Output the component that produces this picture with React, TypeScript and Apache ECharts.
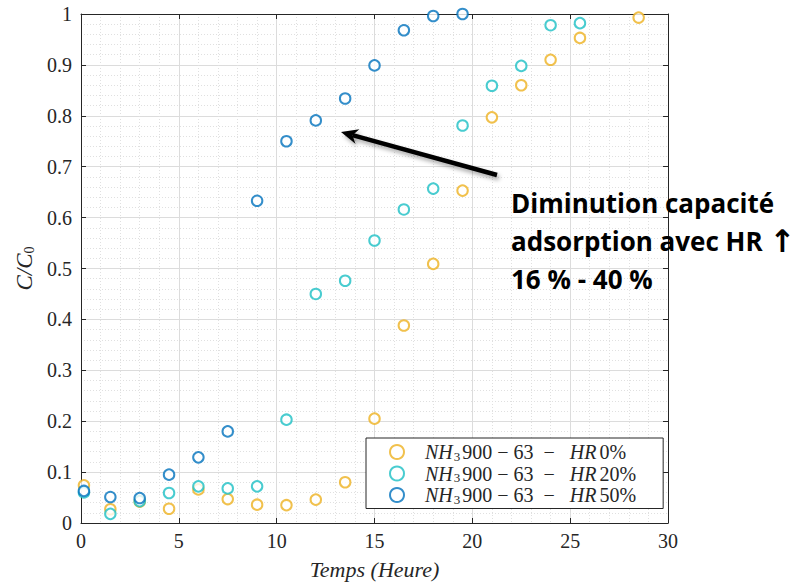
import React, { useEffect, useRef } from "react";
import * as echarts from "echarts";

const timeHours = [0.15, 1.5, 3, 4.5, 6, 7.5, 9, 10.5, 12, 13.5, 15, 16.5, 18, 19.5, 21, 22.5, 24, 25.5, 28.5];
const hr0 = [0.074, 0.027, 0.042, 0.028, 0.066, 0.047, 0.036, 0.035, 0.046, 0.08, 0.205, 0.388, 0.509, 0.653, 0.797, 0.86, 0.91, 0.953, 0.993];
const hr20Times = [0.15, 1.5, 3, 4.5, 6, 7.5, 9, 10.5, 12, 13.5, 15, 16.5, 18, 19.5, 21, 22.5, 24, 25.5];
const hr20 = [0.06, 0.018, 0.043, 0.059, 0.072, 0.068, 0.072, 0.203, 0.45, 0.476, 0.555, 0.616, 0.657, 0.781, 0.859, 0.898, 0.978, 0.982];
const hr50Times = [0.15, 1.5, 3, 4.5, 6, 7.5, 9, 10.5, 12, 13.5, 15, 16.5, 18, 19.5];
const hr50 = [0.063, 0.051, 0.049, 0.095, 0.129, 0.18, 0.633, 0.75, 0.791, 0.834, 0.899, 0.968, 0.996, 1.0];
const seriesNames = ["NH3900-63-HR 0%", "NH3900-63-HR 20%", "NH3900-63-HR 50%"];
const legendPct = ["0%", "20%", "50%"];
const annotationLines = ["Diminution capacité", "adsorption avec HR {a|↑}", "16 % - 40 %"];

const colors = ["#EDB120", "#1CBFC4", "#0072BD"];
const serif = "'Liberation Serif', serif";
const axisColor = "#262626";

function pairs(xs: number[], ys: number[]) {
  return xs.map((x, i) => [x, ys[i]]);
}

export default function App() {
  const ref = useRef<HTMLDivElement>(null);
  useEffect(() => {
    if (!ref.current) return;
    const chart = echarts.init(ref.current, undefined, { renderer: "svg" });

    // arrow geometry (annotation, pixel space)
    const tail = [497, 175];
    const tip = [341, 132];
    const dx = tip[0] - tail[0];
    const dy = tip[1] - tail[1];
    const len = Math.sqrt(dx * dx + dy * dy);
    const ux = dx / len, uy = dy / len;
    const nx = -uy, ny = ux;
    const headLen = 17, headW = 7.5;
    const base = [tip[0] - headLen * ux, tip[1] - headLen * uy];
    const inner = [tip[0] - headLen * 0.7 * ux, tip[1] - headLen * 0.7 * uy];
    const c1 = [base[0] + headW * nx, base[1] + headW * ny];
    const c2 = [base[0] - headW * nx, base[1] - headW * ny];
    const shadow = { shadowBlur: 4, shadowColor: "rgba(0,0,0,0.35)", shadowOffsetX: 2, shadowOffsetY: 3 };

    const labelStyle = { show: true, color: axisColor, fontFamily: serif, fontSize: 20 };

    const option: any = {
      animation: false,
      backgroundColor: "#fff",
      textStyle: { fontFamily: serif, color: axisColor },
      grid: { left: 81, right: 136, top: 14, bottom: 58, containLabel: false },
      xAxis: [
        {
          type: "value",
          position: "bottom",
          min: 0,
          max: 30,
          interval: 5,
          axisLine: { show: true, onZero: false, lineStyle: { color: axisColor, width: 1 } },
          axisTick: { show: true, inside: true, length: 5, lineStyle: { color: axisColor } },
          axisLabel: { ...labelStyle, margin: 8 },
          splitLine: { show: true, lineStyle: { color: "#dcdcdc", width: 1 } },
          minorSplitLine: { show: true, lineStyle: { color: "#e0e0e0", type: [1, 2], width: 1 } },
          minorTick: { show: false, splitNumber: 5 },
          name: "Temps (Heure)",
          nameLocation: "middle",
          nameGap: 35,
          nameTextStyle: { fontFamily: serif, fontStyle: "italic", fontSize: 22, color: axisColor },
        },
        {
          type: "value",
          position: "top",
          min: 0,
          max: 30,
          interval: 5,
          axisLine: { show: true, onZero: false, lineStyle: { color: axisColor, width: 1 } },
          axisTick: { show: true, inside: true, length: 5, lineStyle: { color: axisColor } },
          axisLabel: { show: false },
          splitLine: { show: false },
        },
      ],
      yAxis: [
        {
          type: "value",
          position: "left",
          min: 0,
          max: 1,
          interval: 0.1,
          axisLine: { show: true, onZero: false, lineStyle: { color: axisColor, width: 1 } },
          axisTick: { show: true, inside: true, length: 5, lineStyle: { color: axisColor } },
          axisLabel: { ...labelStyle, margin: 9 },
          splitLine: { show: true, lineStyle: { color: "#dcdcdc", width: 1 } },
          minorSplitLine: { show: true, lineStyle: { color: "#e0e0e0", type: [1, 2], width: 1 } },
          minorTick: { show: false, splitNumber: 5 },
          name: "C/C{s|0}",
          nameLocation: "middle",
          nameGap: 45,
          nameRotate: 90,
          nameTextStyle: {
            fontFamily: serif,
            fontStyle: "italic",
            fontSize: 23,
            color: axisColor,
            rich: { s: { fontFamily: serif, fontStyle: "normal", fontSize: 14, color: axisColor, padding: [10, 0, 0, 0] } },
          },
        },
        {
          type: "value",
          position: "right",
          min: 0,
          max: 1,
          interval: 0.1,
          axisLine: { show: true, onZero: false, lineStyle: { color: axisColor, width: 1 } },
          axisTick: { show: true, inside: true, length: 5, lineStyle: { color: axisColor } },
          axisLabel: { show: false },
          splitLine: { show: false },
        },
      ],
      legend: {
        left: 366,
        top: 438,
        orient: "vertical",
        padding: [4, 27, 3, 23],
        itemGap: 1,
        itemWidth: 14,
        itemHeight: 14,
        borderColor: axisColor,
        borderWidth: 1,
        borderRadius: 0,
        backgroundColor: "#fff",
        data: seriesNames,
        formatter: (name: string) => {
          const idx = seriesNames.indexOf(name);
          return `{i|NH}{s|3}{n|900 − 63  −   }{i|HR} {n|${legendPct[idx]}}`;
        },
        textStyle: {
          color: axisColor,
          fontFamily: serif,
          padding: [0, 0, 0, 16],
          rich: {
            i: { fontFamily: serif, fontStyle: "italic", fontSize: 20, color: axisColor, height: 22 },
            n: { fontFamily: serif, fontSize: 20, color: axisColor, height: 22 },
            s: { fontFamily: serif, fontSize: 13, color: axisColor, padding: [8, 2, 0, 1], height: 22 },
          },
        },
      },
      series: [
        { name: seriesNames[0], data: pairs(timeHours, hr0), color: colors[0] },
        { name: seriesNames[1], data: pairs(hr20Times, hr20), color: colors[1] },
        { name: seriesNames[2], data: pairs(hr50Times, hr50), color: colors[2] },
      ].map((s) => ({
        ...s,
        type: "scatter",
        symbol: "emptyCircle",
        symbolSize: 10.5,
        itemStyle: { color: s.color, borderColor: s.color, borderWidth: 1.8 },
        z: 3,
      })),
      graphic: [
        {
          type: "line",
          shape: { x1: tail[0], y1: tail[1], x2: inner[0], y2: inner[1] },
          style: { stroke: "#000", lineWidth: 4.5, ...shadow },
          z: 10,
        },
        {
          type: "polygon",
          shape: { points: [tip, c1, inner, c2] },
          style: { fill: "#000", ...shadow },
          z: 10,
        },
        {
          type: "text",
          left: 511,
          top: 184,
          style: {
            text: annotationLines.join("\n"),
            fontFamily: "'Open Sans', sans-serif",
            fontWeight: "bold",
            fontSize: 26,
            fill: "#000",
            lineHeight: 38,
            rich: {
              a: { fontFamily: "'DejaVu Sans'", fontWeight: "bold", fontSize: 31, fill: "#000", lineHeight: 38 },
            },
          },
          z: 10,
        },
      ],
    };
    chart.setOption(option);
    return () => chart.dispose();
  }, []);
  return <div ref={ref} style={{ width: 804, height: 585, position: "absolute", left: 0, top: 0 }} />;
}
